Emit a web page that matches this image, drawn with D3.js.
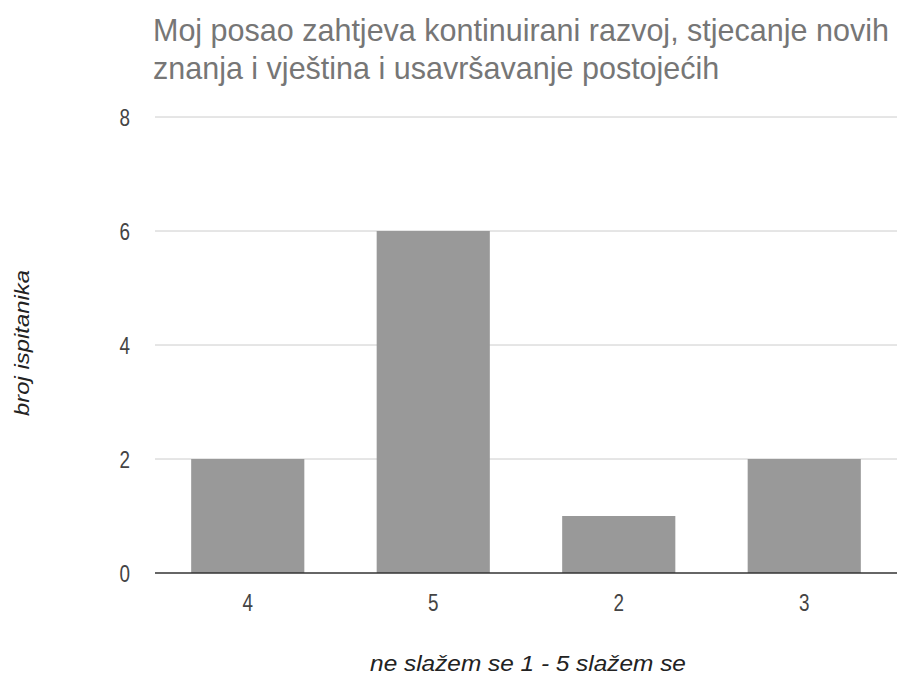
<!DOCTYPE html>
<html>
<head>
<meta charset="utf-8">
<script src="https://cdn.jsdelivr.net/npm/d3@7"></script>
<style>
  body { margin: 0; background: #fff; }
  text { font-family: "Liberation Sans", Arial, sans-serif; }
</style>
</head>
<body>
<script>
// chart data
var categories = ['4', '5', '2', '3'];
var values = [2, 6, 1, 2];
var yTicks = [0, 2, 4, 6, 8];
var titleLines = ['Moj posao zahtjeva kontinuirani razvoj, stjecanje novih',
                  'znanja i vještina i usavršavanje postojećih'];
var xLabel = 'ne slažem se 1 - 5 slažem se';
var yLabel = 'broj ispitanika';

var W = 899, H = 677;
var margin = { top: 117, right: 2, bottom: 104, left: 155 },
    width = W - margin.left - margin.right,
    height = H - margin.top - margin.bottom;

var svg = d3.select('body').append('svg')
    .attr('width', W)
    .attr('height', H);

// squeeze a text horizontally so it gets the width seen in the picture
function fitText(sel, target) {
    var len = sel.node().getComputedTextLength();
    return target / len;
}

// title (both lines share the horizontal squeeze of the first one)
var titleG = svg.append('g');
var t1 = titleG.append('text')
    .attr('fill', '#767676')
    .attr('font-size', 31)
    .text(titleLines[0]);
var tk = fitText(t1, 736);
t1.attr('transform', 'translate(153,41) scale(' + tk + ',1)');
titleG.append('text')
    .attr('fill', '#767676')
    .attr('font-size', 31)
    .attr('transform', 'translate(153,79) scale(' + tk + ',1)')
    .text(titleLines[1]);

var g = svg.append('g')
    .attr('transform', 'translate(' + margin.left + ',' + margin.top + ')');

var x = d3.scaleBand().domain(categories).range([0, width])
    .paddingInner(0.39).paddingOuter(0.195);
var y = d3.scaleLinear().domain([0, 8]).range([height, 0]);

// gridlines
g.selectAll('.grid')
    .data(yTicks.filter(function (d) { return d > 0; }))
    .enter().append('line')
    .attr('x1', 0).attr('x2', width)
    .attr('y1', function (d) { return y(d); })
    .attr('y2', function (d) { return y(d); })
    .attr('stroke', '#cccccc')
    .attr('stroke-width', 1);

// y tick labels
g.selectAll('.ytick')
    .data(yTicks)
    .enter().append('text')
    .attr('transform', function (d) { return 'translate(-25,' + (y(d) + 8.5) + ') scale(0.82,1)'; })
    .attr('text-anchor', 'end')
    .attr('fill', '#444')
    .attr('font-size', 23)
    .text(function (d) { return d; });

// bars
g.selectAll('.bar')
    .data(values)
    .enter().append('rect')
    .attr('x', function (d, i) { return x(categories[i]); })
    .attr('y', function (d) { return y(d); })
    .attr('width', x.bandwidth())
    .attr('height', function (d) { return height - y(d); })
    .attr('fill', '#999999');

// baseline
g.append('line')
    .attr('x1', 0).attr('x2', width)
    .attr('y1', y(0)).attr('y2', y(0))
    .attr('stroke', '#333')
    .attr('stroke-width', 1.5);

// x tick labels
g.selectAll('.xtick')
    .data(categories)
    .enter().append('text')
    .attr('transform', function (d) {
        return 'translate(' + (x(d) + x.bandwidth() / 2) + ',' + (height + 38) + ') scale(0.82,1)';
    })
    .attr('text-anchor', 'middle')
    .attr('fill', '#444')
    .attr('font-size', 23)
    .text(function (d) { return d; });

// axis titles
var xl = svg.append('text')
    .attr('text-anchor', 'middle')
    .attr('font-style', 'italic')
    .attr('fill', '#222')
    .attr('font-size', 22)
    .text(xLabel);
var xk = fitText(xl, 316);
xl.attr('transform', 'translate(528,671) scale(' + xk + ',1)');

var yl = svg.append('text')
    .attr('text-anchor', 'middle')
    .attr('font-style', 'italic')
    .attr('fill', '#222')
    .attr('font-size', 21)
    .text(yLabel);
var yk = fitText(yl, 146);
yl.attr('transform', 'translate(29,343) rotate(-90) scale(' + yk + ',1)');
</script>
</body>
</html>
